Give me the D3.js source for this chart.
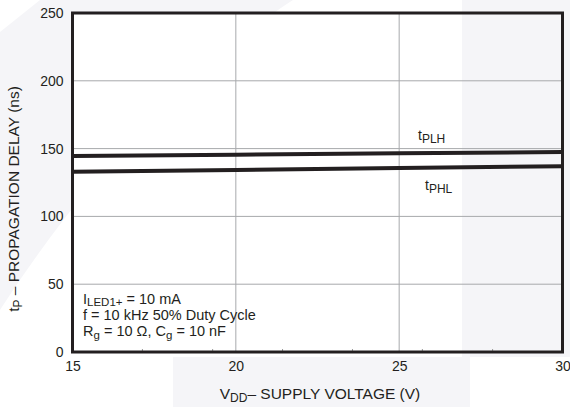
<!DOCTYPE html>
<html><head><meta charset="utf-8">
<script src="https://cdn.jsdelivr.net/npm/d3@7"></script>
<style>
html,body{margin:0;padding:0;background:#fff;}
svg{display:block;}
text{font-family:"Liberation Sans",Arial,Helvetica,sans-serif;fill:#231f20;}
</style></head>
<body>
<svg id="chart" width="570" height="407"></svg>
<script>
// ---- data ----
const vdd = [15, 20, 25, 30];
const tPLH = [144.5, 145.5, 146.5, 147.5];
const tPHL = [133, 134.3, 135.7, 137];
const xTicks = [15, 20, 25, 30];
const yTicks = [0, 50, 100, 150, 200, 250];
const xGrid = [20, 25];
const yGrid = [50, 100, 150, 200];
const xMinor = [17.14, 19.29, 21.43, 23.57, 25.71, 27.86];

const svg = d3.select("#chart");
const x = d3.scaleLinear().domain([15, 30]).range([72.5, 562.5]);
const y = d3.scaleLinear().domain([0, 250]).range([352, 13]);

// watermark background
const wm = "#f5f5f8";
svg.append("path").attr("fill", wm)
  .attr("d", "M40,0 L293,0 C200,60 90,170 0,310 L0,32 Z");
svg.append("path").attr("fill", wm)
  .attr("d", "M462,0 L570,0 L570,357 L470,357 L470,407 L173,407 L173,357 L462,357 Z");

// plot interior
const px0 = x(15), px1 = x(30), py0 = y(250), py1 = y(0);
svg.append("rect").attr("x", px0).attr("y", py0).attr("width", 462 - px0).attr("height", py1 - py0).attr("fill", "#fff");

// grid
const g = svg.append("g");
g.selectAll(".gx").data(xGrid).join("line")
  .attr("x1", d => x(d)).attr("x2", d => x(d)).attr("y1", py0).attr("y2", py1)
  .attr("stroke", "#a7a9ac").attr("stroke-width", 1);
g.selectAll(".gy").data(yGrid).join("line")
  .attr("x1", px0).attr("x2", px1).attr("y1", d => y(d)).attr("y2", d => y(d))
  .attr("stroke", "#a7a9ac").attr("stroke-width", 1);
g.selectAll(".mx").data(xMinor).join("line")
  .attr("x1", d => x(d)).attr("x2", d => x(d)).attr("y1", py1 - 3).attr("y2", py1)
  .attr("stroke", "#999").attr("stroke-width", 1);

// lines
const line = d3.line().x((d, i) => x(vdd[i])).y(d => y(d));
[tPLH, tPHL].forEach(s => {
  svg.append("path").datum(s).attr("d", line)
    .attr("fill", "none").attr("stroke", "#231f20").attr("stroke-width", 4);
});

// frame
svg.append("rect").attr("x", px0).attr("y", py0).attr("width", px1 - px0).attr("height", py1 - py0)
  .attr("fill", "none").attr("stroke", "#231f20").attr("stroke-width", 3);

// axes
const ax = svg.append("g").attr("transform", `translate(0,${py1})`)
  .call(d3.axisBottom(x).tickValues(xTicks).tickFormat(d3.format("d")).tickSize(0).tickPadding(9));
const ay = svg.append("g").attr("transform", `translate(${px0},0)`)
  .call(d3.axisLeft(y).tickValues(yTicks).tickFormat(d3.format("d")).tickSize(0).tickPadding(9));
[ax, ay].forEach(a => {
  a.select(".domain").remove();
  a.selectAll("text").attr("font-size", 14).attr("font-family", "Liberation Sans, Arial, sans-serif").attr("fill", "#231f20");
});

// helper for text with subscripts
function rich(parent, parts, size, subSize, shift) {
  parts.forEach(p => {
    const t = parent.append("tspan").text(p.t);
    if (p.sub) t.attr("font-size", subSize).attr("dy", shift);
    else if (p.after) t.attr("font-size", size).attr("dy", -shift);
  });
}

// axis titles
const xt = svg.append("text").attr("x", 320).attr("y", 399).attr("text-anchor", "middle").attr("font-size", 15.5);
rich(xt, [{t: "V"}, {t: "DD", sub: true}, {t: "\u2013 SUPPLY VOLTAGE (V)", after: true}], 15.5, 12, 3);

const yt = svg.append("text").attr("transform", "translate(19,199) rotate(-90)").attr("text-anchor", "middle").attr("font-size", 15.5);
rich(yt, [{t: "t"}, {t: "P", sub: true}, {t: " \u2013 PROPAGATION DELAY (ns)", after: true}], 15.5, 12, 3);

// curve labels
const l1 = svg.append("text").attr("x", 418).attr("y", 139.5).attr("font-size", 14);
rich(l1, [{t: "t"}, {t: "PLH", sub: true}], 14, 12, 3);
const l2 = svg.append("text").attr("x", 425).attr("y", 189.5).attr("font-size", 14);
rich(l2, [{t: "t"}, {t: "PHL", sub: true}], 14, 12, 3);

// conditions
const c1 = svg.append("text").attr("x", 83).attr("y", 303.5).attr("font-size", 14.5);
rich(c1, [{t: "I"}, {t: "LED1+", sub: true}, {t: " = 10 mA", after: true}], 14.5, 11.5, 2.5);
svg.append("text").attr("x", 83).attr("y", 320).attr("font-size", 14.5).text("f = 10 kHz 50% Duty Cycle");
const c3 = svg.append("text").attr("x", 83).attr("y", 336).attr("font-size", 14.5);
rich(c3, [{t: "R"}, {t: "g", sub: true}, {t: " = 10 \u03A9, C", after: true}, {t: "g", sub: true}, {t: " = 10 nF", after: true}], 14.5, 11.5, 2.5);
</script>
</body></html>
